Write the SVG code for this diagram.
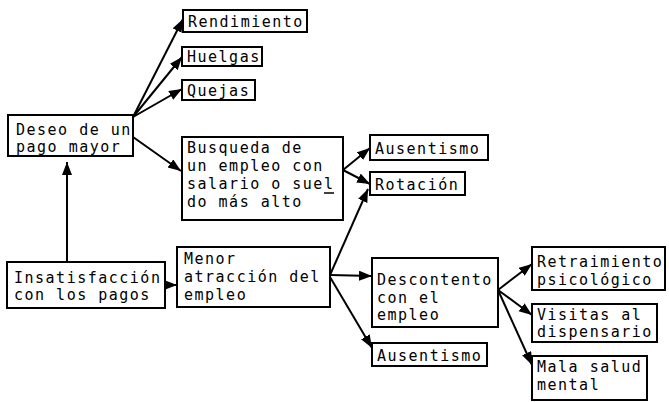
<svg xmlns="http://www.w3.org/2000/svg" width="669" height="402" viewBox="0 0 669 402">
<style>
.box{fill:#fff;stroke:#000;stroke-width:2}
.t{font-family:"DejaVu Sans Mono","Liberation Mono",monospace;font-size:15px;letter-spacing:1.5px;fill:#000}
.c{stroke:#000;stroke-width:2;fill:none;marker-end:url(#ah)}
</style>
<defs>
<marker id="ah" markerUnits="userSpaceOnUse" markerWidth="14" markerHeight="12" refX="13" refY="5" orient="auto">
<path d="M0,0 L13,5 L0,10 Z" fill="#000"/>
</marker>
</defs>
<rect width="669" height="402" fill="#fff"/>
<g id="connectors">
<line class="c" x1="133" y1="117" x2="183" y2="19"/>
<line class="c" x1="133" y1="117" x2="182" y2="57"/>
<line class="c" x1="133" y1="117" x2="182" y2="89"/>
<line class="c" x1="133" y1="137" x2="181" y2="171"/>
<line class="c" x1="67" y1="262" x2="67" y2="162"/>
<line class="c" x1="165" y1="285" x2="177" y2="285"/>
<line class="c" x1="343" y1="170" x2="370" y2="148"/>
<line class="c" x1="343" y1="170" x2="370" y2="184"/>
<line class="c" x1="330" y1="275" x2="368" y2="189"/>
<line class="c" x1="330" y1="275" x2="372" y2="276"/>
<line class="c" x1="330" y1="277" x2="372" y2="348"/>
<line class="c" x1="498" y1="290" x2="532" y2="264"/>
<line class="c" x1="498" y1="290" x2="532" y2="315"/>
<line class="c" x1="498" y1="290" x2="532" y2="365"/>
</g>
<g id="rendimiento"><rect class="box" x="183" y="10" width="124" height="22"/><text class="t" x="188" y="27">Rendimiento</text></g>
<g id="huelgas"><rect class="box" x="182" y="47" width="80" height="19"/><text class="t" x="187" y="62">Huelgas</text></g>
<g id="quejas"><rect class="box" x="182" y="80" width="73" height="20"/><text class="t" x="187" y="96">Quejas</text></g>
<g id="deseo"><rect class="box" x="8" y="115" width="125" height="41"/><text class="t" x="16" y="135">Deseo de un</text><text class="t" x="16" y="152">pago mayor</text></g>
<g id="busqueda"><rect class="box" x="182" y="137" width="161" height="83"/><text class="t" x="187" y="153">Busqueda de</text><text class="t" x="187" y="171">un empleo con</text><text class="t" x="187" y="189">salario o suel</text><text class="t" x="187" y="207">do más alto</text><line x1="324" y1="193" x2="334" y2="193" stroke="#000" stroke-width="1.5"/></g>
<g id="ausentismo1"><rect class="box" x="370" y="135" width="118" height="25"/><text class="t" x="375" y="154">Ausentismo</text></g>
<g id="rotacion"><rect class="box" x="370" y="172" width="95" height="23"/><text class="t" x="375" y="190">Rotación</text></g>
<g id="insatisfaccion"><rect class="box" x="7" y="262" width="158" height="46"/><text class="t" x="14" y="283">Insatisfacción</text><text class="t" x="14" y="300">con los pagos</text></g>
<g id="menor"><rect class="box" x="177" y="247" width="153" height="60"/><text class="t" x="184" y="264">Menor</text><text class="t" x="184" y="282">atracción del</text><text class="t" x="184" y="300">empleo</text></g>
<g id="descontento"><rect class="box" x="372" y="258" width="126" height="69"/><text class="t" x="377" y="285">Descontento</text><text class="t" x="377" y="303">con el</text><text class="t" x="377" y="320">empleo</text></g>
<g id="ausentismo2"><rect class="box" x="372" y="343" width="115" height="23"/><text class="t" x="377" y="361">Ausentismo</text></g>
<g id="retraimiento"><rect class="box" x="532" y="247" width="133" height="43"/><text class="t" x="537" y="267">Retraimiento</text><text class="t" x="537" y="285">psicológico</text></g>
<g id="visitas"><rect class="box" x="532" y="304" width="125" height="38"/><text class="t" x="537" y="320">Visitas al</text><text class="t" x="537" y="337">dispensario</text></g>
<g id="mala"><rect class="box" x="532" y="356" width="115" height="44"/><text class="t" x="537" y="372">Mala salud</text><text class="t" x="537" y="390">mental</text></g>
</svg>
